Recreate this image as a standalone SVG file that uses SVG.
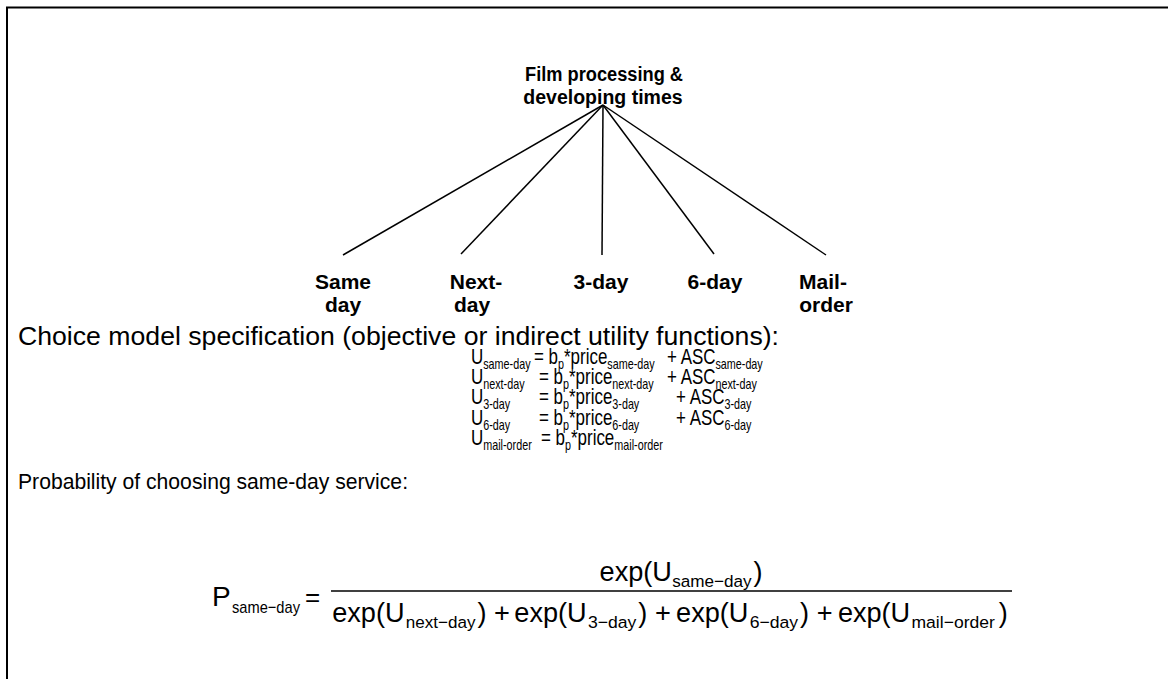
<svg xmlns="http://www.w3.org/2000/svg" width="1168" height="679" viewBox="0 0 1168 679">
<style>
text { font-family: "Liberation Sans", Arial, sans-serif; fill: #000; }
.t { font-weight: bold; font-size: 19.5px; text-anchor: middle; }
.lb { font-weight: bold; font-size: 21px; text-anchor: middle; }
.eq { font-size: 22px; }
.s { font-size: 14px; }
.fm { font-size: 28px; }
.fs { font-size: 17px; }
.conn line { stroke: #000; stroke-width: 1.5; }
</style>
<rect width="1168" height="679" fill="#fff"/>
<path d="M7,679 V7.5 H1168" fill="none" stroke="#000" stroke-width="2"/>
<g id="root">
<text class="t" x="604" y="81" textLength="158" lengthAdjust="spacingAndGlyphs">Film processing &amp;</text>
<text class="t" x="603" y="104">developing times</text>
</g>
<g id="connectors" class="conn">
<line x1="603" y1="105" x2="343" y2="255"/>
<line x1="603" y1="105" x2="461" y2="254"/>
<line x1="603" y1="105" x2="602" y2="255"/>
<line x1="603" y1="105" x2="714" y2="254"/>
<line x1="603" y1="105" x2="826" y2="255"/>
</g>
<g id="same-day"><text class="lb" x="343" y="289">Same</text><text class="lb" x="343" y="312">day</text></g>
<g id="next-day"><text class="lb" x="476" y="289">Next-</text><text class="lb" x="472" y="312">day</text></g>
<g id="three-day"><text class="lb" x="601" y="289">3-day</text></g>
<g id="six-day"><text class="lb" x="715" y="289">6-day</text></g>
<g id="mail-order"><text class="lb" x="823" y="289">Mail-</text><text class="lb" x="826" y="312">order</text></g>
<g id="spec">
<text x="18" y="345" font-size="25" textLength="761" lengthAdjust="spacingAndGlyphs">Choice model specification (objective or indirect utility functions):</text>
<g transform="scale(0.77,1)">
<text class="eq"><tspan x="611.7" y="364">U</tspan><tspan class="s" y="369">same-day</tspan><tspan x="693.5" y="364">= b</tspan><tspan class="s" y="369">p</tspan><tspan y="364">*price</tspan><tspan class="s" y="369">same-day</tspan><tspan x="866.2" y="364">+ ASC</tspan><tspan class="s" y="369">same-day</tspan></text>
<text class="eq"><tspan x="611.7" y="384">U</tspan><tspan class="s" y="389">next-day</tspan><tspan x="700" y="384">= b</tspan><tspan class="s" y="389">p</tspan><tspan y="384">*price</tspan><tspan class="s" y="389">next-day</tspan><tspan x="866.2" y="384">+ ASC</tspan><tspan class="s" y="389">next-day</tspan></text>
<text class="eq"><tspan x="611.7" y="404">U</tspan><tspan class="s" y="409">3-day</tspan><tspan x="700" y="404">= b</tspan><tspan class="s" y="409">p</tspan><tspan y="404">*price</tspan><tspan class="s" y="409">3-day</tspan><tspan x="877.9" y="404">+ ASC</tspan><tspan class="s" y="409">3-day</tspan></text>
<text class="eq"><tspan x="611.7" y="425">U</tspan><tspan class="s" y="430">6-day</tspan><tspan x="700" y="425">= b</tspan><tspan class="s" y="430">p</tspan><tspan y="425">*price</tspan><tspan class="s" y="430">6-day</tspan><tspan x="877.9" y="425">+ ASC</tspan><tspan class="s" y="430">6-day</tspan></text>
<text class="eq"><tspan x="611.7" y="445">U</tspan><tspan class="s" y="450">mail-order</tspan><tspan x="702.6" y="445">= b</tspan><tspan class="s" y="450">p</tspan><tspan y="445">*price</tspan><tspan class="s" y="450">mail-order</tspan></text>
</g>
</g>
<g id="probability">
<text x="18" y="489" font-size="22" textLength="390" lengthAdjust="spacingAndGlyphs">Probability of choosing same-day service:</text>
<text class="fm" x="212" y="606">P</text>
<text class="fs" x="232" y="613" textLength="68" lengthAdjust="spacingAndGlyphs">same−day</text>
<text x="305" y="606" font-size="26">=</text>
<line x1="331" y1="591" x2="1012" y2="591" stroke="#000" stroke-width="1.5"/>
<g transform="translate(30,0) scale(0.9687,1)">
<g id="numerator">
<text class="fm" x="588" y="581">exp(U</text>
<text class="fs" x="663" y="587" textLength="82" lengthAdjust="spacingAndGlyphs">same−day</text>
<text class="fm" x="747" y="581">)</text>
</g>
<g id="denominator">
<text class="fm" x="312" y="622">exp(U</text>
<text class="fs" x="388" y="628" textLength="72" lengthAdjust="spacingAndGlyphs">next−day</text>
<text class="fm" x="462" y="622">) +</text>
<text class="fm" x="500" y="622">exp(U</text>
<text class="fs" x="576" y="628" textLength="50" lengthAdjust="spacingAndGlyphs">3−day</text>
<text class="fm" x="628" y="622">) +</text>
<text class="fm" x="667" y="622">exp(U</text>
<text class="fs" x="743" y="628" textLength="50" lengthAdjust="spacingAndGlyphs">6−day</text>
<text class="fm" x="795" y="622">) +</text>
<text class="fm" x="834" y="622">exp(U</text>
<text class="fs" x="910" y="628" textLength="86" lengthAdjust="spacingAndGlyphs">mail−order</text>
<text class="fm" x="1000" y="622">)</text>
</g>
</g>
</g>
</svg>
